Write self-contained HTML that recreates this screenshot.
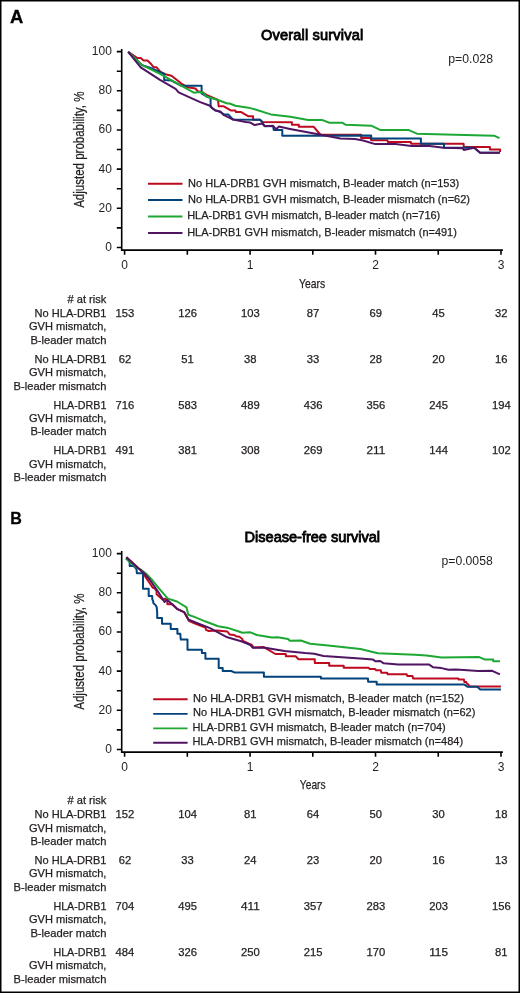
<!DOCTYPE html>
<html><head><meta charset="utf-8"><title>Survival curves</title>
<style>
html,body{margin:0;padding:0;background:#fff;width:520px;height:993px;overflow:hidden;}
svg{display:block;will-change:transform;}
text{font-family:"Liberation Sans",sans-serif;fill:#231f20;}
.b{font-weight:bold;fill:#000;}
.t{fill:#000;stroke:#000;stroke-width:0.8;}
.c{stroke:#231f20;stroke-width:0.25;}
.ax{stroke:#000;stroke-width:1.6;fill:none;}
.crv{fill:none;stroke-width:2;stroke-linejoin:round;stroke-linecap:butt;}
</style></head>
<body>
<svg width="520" height="993" viewBox="0 0 520 993">
<rect x="0" y="0" width="520" height="993" fill="#fff"/>
<rect x="0.75" y="0.75" width="518.5" height="991.5" fill="none" stroke="#000" stroke-width="1.5"/>
<text class="b" x="9.9" y="22.6" font-size="17.5" textLength="13.3" lengthAdjust="spacingAndGlyphs" stroke="#000" stroke-width="0.3">A</text>
<text class="b" x="10.2" y="524" font-size="17" textLength="11.6" lengthAdjust="spacingAndGlyphs" stroke="#000" stroke-width="0.3">B</text>
<path class="ax" d="M121.7 49 V250.9 M120.9 250.1 H502.9"/>
<path class="ax" stroke-width="1.4" d="M116.8 51.60 H121.7 M116.8 71.19 H121.7 M116.8 90.78 H121.7 M116.8 110.37 H121.7 M116.8 129.96 H121.7 M116.8 149.55 H121.7 M116.8 169.14 H121.7 M116.8 188.73 H121.7 M116.8 208.32 H121.7 M116.8 227.91 H121.7 M116.8 247.50 H121.7 M124.60 250.1 V254.70 M187.33 250.1 V254.70 M250.06 250.1 V254.70 M312.79 250.1 V254.70 M375.52 250.1 V254.70 M438.25 250.1 V254.70 M500.98 250.1 V254.70 "/>
<text x="111.9" y="55.00" font-size="12.0" text-anchor="end">100</text>
<text x="111.9" y="94.18" font-size="12.0" text-anchor="end">80</text>
<text x="111.9" y="133.36" font-size="12.0" text-anchor="end">60</text>
<text x="111.9" y="172.54" font-size="12.0" text-anchor="end">40</text>
<text x="111.9" y="211.72" font-size="12.0" text-anchor="end">20</text>
<text x="111.9" y="250.90" font-size="12.0" text-anchor="end">0</text>
<text x="124.60" y="268.70" font-size="12" text-anchor="middle">0</text>
<text x="250.06" y="268.70" font-size="12" text-anchor="middle">1</text>
<text x="375.52" y="268.70" font-size="12" text-anchor="middle">2</text>
<text x="500.98" y="268.70" font-size="12" text-anchor="middle">3</text>
<text class="t" x="261.0" y="39.8" font-size="14.6" textLength="102.19999999999999" lengthAdjust="spacing">Overall survival</text>
<text x="448.2" y="63.0" font-size="12.1" textLength="44.80000000000001" lengthAdjust="spacingAndGlyphs">p=0.028</text>
<text class="c" transform="translate(84,207.8) rotate(-90)" x="0" y="0" font-size="14.2" textLength="116.20000000000002" lengthAdjust="spacingAndGlyphs">Adjusted probability, %</text>
<text class="c" x="299.0" y="288.1" font-size="13.6" textLength="26.19999999999999" lengthAdjust="spacingAndGlyphs">Years</text>
<polyline class="crv" stroke="#bd0a1f" points="128.2,51.9 137.4,58 140.7,58 143.6,60.6 147.5,60.6 150.8,63.7 153.7,67.3 156.6,67.3 160.5,71.9 165.4,74.2 171.5,75.8 182.3,84.2 187.7,87.3 195.4,88.5 197.7,91.2 201.9,91.9 206.5,94.8 218,100 218.7,106.3 223.8,106.3 230.8,110.4 235.4,110.4 236,112.1 241.2,112.1 248.1,116.2 253.1,116.2 253.1,119.65 260,119.7 262.7,122 291.9,122.2 291.9,124.7 298.8,124.7 298.8,126.8 313.8,126.8 320.2,134.5 361.1,134.7 361.1,138.1 370.5,138.1 371.2,140.2 387.3,140.2 388,142.1 410.9,142.1 411.2,143.7 463.6,143.7 463.8,147.1 489.9,147.1 489.9,149.5 500.1,149.5 500.1,152.1"/>
<polyline class="crv" stroke="#03437b" points="128.2,51.9 142.2,65.2 149.9,67.6 164.2,74 164.2,80 171.5,80.6 181.4,85.8 201.6,85.8 201.6,93.5 207.7,97.1 210.6,97.7 210.6,106.9 214.6,109.8 221.5,112.7 224.2,114.6 228.5,114.6 233.1,119.6 260,119.7 262.3,122.4 264.6,126 273.1,126.2 273.8,130.1 282.3,130.1 282.3,135.7 371.2,135.6 371.2,138.5 420.9,138.5 420.9,143.8 444,143.8 444,147.7 474.2,147.7 480,152.8 499.8,152.8"/>
<polyline class="crv" stroke="#1da834" points="128.2,51.9 142.2,65.2 160,73.9 193.8,92.7 199.6,92.1 202.5,92.2 206.5,96.5 218,100 227.3,103.5 229.6,103.5 235.4,105.8 250,108.1 254.6,109.2 270.8,114.4 290.4,116.7 308.1,119.9 321.9,119.9 329.4,122.7 342.1,122.7 345.8,124.8 371.2,125.7 380.6,130.1 408.8,130.1 416.9,133.7 455,134.8 494,135.7 499.5,138.2"/>
<polyline class="crv" stroke="#501562" points="128.2,51.9 140.7,67.3 160,79.9 175.6,88.8 178.6,92.4 199.6,101.9 210.6,106 212.3,108.3 215.2,110.5 220.4,111.6 223.5,114.8 233.1,119.6 245.8,121.9 250,122.4 254.6,125.1 262.3,123.5 264.6,126.2 273.1,125.8 276.2,129.3 278.8,126.6 290,128.9 319.6,134.5 340.4,138.6 355,139.1 363.1,140.5 375.2,144.1 395.4,144.1 411.5,145.9 429.6,146 443.5,147.7 462.7,148.3 463.8,150 474.2,147.7 480.2,152.7 499.8,152.7"/>
<line x1="148.0" y1="183.8" x2="182.5" y2="183.8" stroke="#bd0a1f" stroke-width="1.9"/>
<text class="c" x="188.0" y="186.5" font-size="10.8" textLength="271.2" lengthAdjust="spacingAndGlyphs">No HLA-DRB1 GVH mismatch, B-leader match (n=153)</text>
<line x1="148.0" y1="200.0" x2="182.5" y2="200.0" stroke="#03437b" stroke-width="1.9"/>
<text class="c" x="188.0" y="202.9" font-size="10.8" textLength="282.0" lengthAdjust="spacingAndGlyphs">No HLA-DRB1 GVH mismatch, B-leader mismatch (n=62)</text>
<line x1="148.0" y1="216.5" x2="182.5" y2="216.5" stroke="#1da834" stroke-width="1.9"/>
<text class="c" x="187.2" y="219.4" font-size="10.8" textLength="253.1" lengthAdjust="spacingAndGlyphs">HLA-DRB1 GVH mismatch, B-leader match (n=716)</text>
<line x1="148.0" y1="233.0" x2="182.5" y2="233.0" stroke="#501562" stroke-width="1.9"/>
<text class="c" x="187.2" y="235.6" font-size="10.8" textLength="269.7" lengthAdjust="spacingAndGlyphs">HLA-DRB1 GVH mismatch, B-leader mismatch (n=491)</text>
<text class="c" x="106.4" y="303.10" font-size="10.8" text-anchor="end" textLength="38.9" lengthAdjust="spacingAndGlyphs"># at risk</text>
<text class="c" x="106.4" y="316.90" font-size="10.8" text-anchor="end" textLength="71.8" lengthAdjust="spacingAndGlyphs">No HLA-DRB1</text>
<text class="c" x="106.4" y="330.35" font-size="10.8" text-anchor="end" textLength="77.4" lengthAdjust="spacingAndGlyphs">GVH mismatch,</text>
<text class="c" x="106.4" y="343.80" font-size="10.8" text-anchor="end" textLength="76.0" lengthAdjust="spacingAndGlyphs">B-leader match</text>
<text class="c" x="124.90" y="316.90" font-size="10.3" text-anchor="middle" textLength="18.75" lengthAdjust="spacingAndGlyphs">153</text>
<text class="c" x="187.63" y="316.90" font-size="10.3" text-anchor="middle" textLength="18.75" lengthAdjust="spacingAndGlyphs">126</text>
<text class="c" x="250.36" y="316.90" font-size="10.3" text-anchor="middle" textLength="18.75" lengthAdjust="spacingAndGlyphs">103</text>
<text class="c" x="313.09" y="316.90" font-size="10.3" text-anchor="middle" textLength="12.50" lengthAdjust="spacingAndGlyphs">87</text>
<text class="c" x="375.82" y="316.90" font-size="10.3" text-anchor="middle" textLength="12.50" lengthAdjust="spacingAndGlyphs">69</text>
<text class="c" x="438.55" y="316.90" font-size="10.3" text-anchor="middle" textLength="12.50" lengthAdjust="spacingAndGlyphs">45</text>
<text class="c" x="501.28" y="316.90" font-size="10.3" text-anchor="middle" textLength="12.50" lengthAdjust="spacingAndGlyphs">32</text>
<text class="c" x="106.4" y="362.70" font-size="10.8" text-anchor="end" textLength="71.8" lengthAdjust="spacingAndGlyphs">No HLA-DRB1</text>
<text class="c" x="106.4" y="376.15" font-size="10.8" text-anchor="end" textLength="77.4" lengthAdjust="spacingAndGlyphs">GVH mismatch,</text>
<text class="c" x="106.4" y="389.60" font-size="10.8" text-anchor="end" textLength="92.8" lengthAdjust="spacingAndGlyphs">B-leader mismatch</text>
<text class="c" x="124.90" y="362.70" font-size="10.3" text-anchor="middle" textLength="12.50" lengthAdjust="spacingAndGlyphs">62</text>
<text class="c" x="187.63" y="362.70" font-size="10.3" text-anchor="middle" textLength="12.50" lengthAdjust="spacingAndGlyphs">51</text>
<text class="c" x="250.36" y="362.70" font-size="10.3" text-anchor="middle" textLength="12.50" lengthAdjust="spacingAndGlyphs">38</text>
<text class="c" x="313.09" y="362.70" font-size="10.3" text-anchor="middle" textLength="12.50" lengthAdjust="spacingAndGlyphs">33</text>
<text class="c" x="375.82" y="362.70" font-size="10.3" text-anchor="middle" textLength="12.50" lengthAdjust="spacingAndGlyphs">28</text>
<text class="c" x="438.55" y="362.70" font-size="10.3" text-anchor="middle" textLength="12.50" lengthAdjust="spacingAndGlyphs">20</text>
<text class="c" x="501.28" y="362.70" font-size="10.3" text-anchor="middle" textLength="12.50" lengthAdjust="spacingAndGlyphs">16</text>
<text class="c" x="106.4" y="408.50" font-size="10.8" text-anchor="end" textLength="53.0" lengthAdjust="spacingAndGlyphs">HLA-DRB1</text>
<text class="c" x="106.4" y="421.95" font-size="10.8" text-anchor="end" textLength="77.4" lengthAdjust="spacingAndGlyphs">GVH mismatch,</text>
<text class="c" x="106.4" y="435.40" font-size="10.8" text-anchor="end" textLength="76.0" lengthAdjust="spacingAndGlyphs">B-leader match</text>
<text class="c" x="124.90" y="408.50" font-size="10.3" text-anchor="middle" textLength="18.75" lengthAdjust="spacingAndGlyphs">716</text>
<text class="c" x="187.63" y="408.50" font-size="10.3" text-anchor="middle" textLength="18.75" lengthAdjust="spacingAndGlyphs">583</text>
<text class="c" x="250.36" y="408.50" font-size="10.3" text-anchor="middle" textLength="18.75" lengthAdjust="spacingAndGlyphs">489</text>
<text class="c" x="313.09" y="408.50" font-size="10.3" text-anchor="middle" textLength="18.75" lengthAdjust="spacingAndGlyphs">436</text>
<text class="c" x="375.82" y="408.50" font-size="10.3" text-anchor="middle" textLength="18.75" lengthAdjust="spacingAndGlyphs">356</text>
<text class="c" x="438.55" y="408.50" font-size="10.3" text-anchor="middle" textLength="18.75" lengthAdjust="spacingAndGlyphs">245</text>
<text class="c" x="501.28" y="408.50" font-size="10.3" text-anchor="middle" textLength="18.75" lengthAdjust="spacingAndGlyphs">194</text>
<text class="c" x="106.4" y="454.30" font-size="10.8" text-anchor="end" textLength="53.0" lengthAdjust="spacingAndGlyphs">HLA-DRB1</text>
<text class="c" x="106.4" y="467.75" font-size="10.8" text-anchor="end" textLength="77.4" lengthAdjust="spacingAndGlyphs">GVH mismatch,</text>
<text class="c" x="106.4" y="481.20" font-size="10.8" text-anchor="end" textLength="92.8" lengthAdjust="spacingAndGlyphs">B-leader mismatch</text>
<text class="c" x="124.90" y="454.30" font-size="10.3" text-anchor="middle" textLength="18.75" lengthAdjust="spacingAndGlyphs">491</text>
<text class="c" x="187.63" y="454.30" font-size="10.3" text-anchor="middle" textLength="18.75" lengthAdjust="spacingAndGlyphs">381</text>
<text class="c" x="250.36" y="454.30" font-size="10.3" text-anchor="middle" textLength="18.75" lengthAdjust="spacingAndGlyphs">308</text>
<text class="c" x="313.09" y="454.30" font-size="10.3" text-anchor="middle" textLength="18.75" lengthAdjust="spacingAndGlyphs">269</text>
<text class="c" x="375.82" y="454.30" font-size="10.3" text-anchor="middle" textLength="18.75" lengthAdjust="spacingAndGlyphs">211</text>
<text class="c" x="438.55" y="454.30" font-size="10.3" text-anchor="middle" textLength="18.75" lengthAdjust="spacingAndGlyphs">144</text>
<text class="c" x="501.28" y="454.30" font-size="10.3" text-anchor="middle" textLength="18.75" lengthAdjust="spacingAndGlyphs">102</text>
<path class="ax" d="M121.7 551 V752.9 M120.9 752.1 H502.9"/>
<path class="ax" stroke-width="1.4" d="M116.8 553.60 H121.7 M116.8 573.19 H121.7 M116.8 592.78 H121.7 M116.8 612.37 H121.7 M116.8 631.96 H121.7 M116.8 651.55 H121.7 M116.8 671.14 H121.7 M116.8 690.73 H121.7 M116.8 710.32 H121.7 M116.8 729.91 H121.7 M116.8 749.50 H121.7 M124.60 752.1 V756.70 M187.33 752.1 V756.70 M250.06 752.1 V756.70 M312.79 752.1 V756.70 M375.52 752.1 V756.70 M438.25 752.1 V756.70 M500.98 752.1 V756.70 "/>
<text x="111.9" y="557.00" font-size="12.0" text-anchor="end">100</text>
<text x="111.9" y="596.18" font-size="12.0" text-anchor="end">80</text>
<text x="111.9" y="635.36" font-size="12.0" text-anchor="end">60</text>
<text x="111.9" y="674.54" font-size="12.0" text-anchor="end">40</text>
<text x="111.9" y="713.72" font-size="12.0" text-anchor="end">20</text>
<text x="111.9" y="752.90" font-size="12.0" text-anchor="end">0</text>
<text x="124.60" y="770.70" font-size="12" text-anchor="middle">0</text>
<text x="250.06" y="770.70" font-size="12" text-anchor="middle">1</text>
<text x="375.52" y="770.70" font-size="12" text-anchor="middle">2</text>
<text x="500.98" y="770.70" font-size="12" text-anchor="middle">3</text>
<text class="t" x="244.6" y="541.5" font-size="14.6" textLength="135.50000000000003" lengthAdjust="spacing">Disease-free survival</text>
<text x="441.5" y="565.1" font-size="12.1" textLength="51.19999999999999" lengthAdjust="spacingAndGlyphs">p=0.0058</text>
<text class="c" transform="translate(84,709.7) rotate(-90)" x="0" y="0" font-size="14.2" textLength="116.20000000000005" lengthAdjust="spacingAndGlyphs">Adjusted probability, %</text>
<text class="c" x="299.8" y="789.2" font-size="13.6" textLength="25.80000000000001" lengthAdjust="spacingAndGlyphs">Years</text>
<polyline class="crv" stroke="#bd0a1f" points="126.5,557.2 141.2,570.8 152.8,587.8 154.5,588.2 156.6,590.9 156.6,594.3 162.5,599.5 165.3,598.6 167.4,600 167.4,604.3 172.4,604.3 176.9,608.8 184.2,612.2 188.8,620.8 195,623.5 205.4,627.5 206,629.8 208.8,631 216.9,630.4 227.3,631.5 229.6,634.4 234.2,635 236,636.2 239.4,636.7 242.3,639 242.9,640.8 250,644.2 251.7,644.8 253.5,647.5 263.8,647.1 275.4,654 285.8,654 285.8,656.3 295.6,656.3 298.5,659.2 314.8,659.2 314.8,662.9 329.2,662.9 329.2,665.8 343.7,665.8 343.7,667.8 368.7,667.8 369.8,669.1 375,669.1 376.2,670.2 380.8,670.2 381.3,672.7 387.1,672.7 387.7,674.3 406.7,674.3 407.3,676 412.5,676 413.1,678.5 458.3,678.5 458.8,679.6 464,679.6 464.4,682 466.3,682 466.7,683.5 468.7,684.9 469.1,686.5 500.9,686.5"/>
<polyline class="crv" stroke="#03437b" points="126.5,557.2 129.7,562.6 129.7,566 133.5,566 136.4,568.8 136.9,573.2 142.2,573.2 143,573.5 143,588.8 148.7,588.8 148.7,595.9 152.2,595.9 152.3,599.3 153.3,601.5 153.3,603 155.8,605.4 156.7,607.3 157.2,613.1 157.2,617.9 162,617.9 162,623.7 170.7,623.7 170.7,628.9 177.4,628.9 177.4,633.8 180.3,633.8 180.8,639.6 187.5,639.6 187.5,649.8 201.9,649.8 201.9,652.9 205.4,652.9 205.4,658.7 218.7,658.7 218.7,667.9 222.7,667.9 222.7,671 231.3,671 234.8,672.6 263.9,672.6 263.9,676.8 320.9,676.8 320.9,678.6 368,678.6 368.1,681.8 376.7,681.8 376.7,684.4 464,684.4 467.7,686.8 477.3,686.8 480.2,689.4 500.9,689.4"/>
<polyline class="crv" stroke="#1da834" points="125.7,558.4 136.4,567.4 140.4,569.4 146.2,573.8 152.4,580.3 158.3,587.6 167.9,598.6 172.2,600 177,601.5 186.5,607.3 188.3,614.8 195,617.1 205,621.3 218.1,626.3 228.5,628.1 238.8,631.5 242.3,632.7 250.4,632.3 256.9,635 271.9,637.5 277.7,637.3 288.1,639 289.8,640.8 300.8,640.5 310.2,643.8 328.1,645.6 360.4,649 377.9,653.3 415,654.8 426.5,655.4 441.5,657.5 479.2,657.1 484.5,659.4 493.2,659.4 493.2,661.2 499.9,661.2"/>
<polyline class="crv" stroke="#501562" points="126.3,557.3 138,568 143.8,572.8 150,580 158.9,593 164.5,601.9 167.4,600 177.1,608.8 184.4,612.4 188.8,619.8 195,622.3 210,628.1 227.3,637.3 241.2,641.3 250,644.8 252.9,647.7 265,647.7 284.6,650.9 305,653.1 314.2,653.7 323.5,656 360,658.5 372.7,659.4 375.6,661.3 380.2,661 383.7,663.3 398.1,664.5 415,664.6 428.8,664.4 432.9,667.2 441.5,668.1 448.5,669.8 455.4,669.5 460,669.8 478.3,671 492.2,670.8 499.9,674.3"/>
<line x1="153.2" y1="699.2" x2="187.6" y2="699.2" stroke="#bd0a1f" stroke-width="1.9"/>
<text class="c" x="193.0" y="701.9" font-size="10.8" textLength="270.8" lengthAdjust="spacingAndGlyphs">No HLA-DRB1 GVH mismatch, B-leader match (n=152)</text>
<line x1="153.2" y1="713.9" x2="187.6" y2="713.9" stroke="#03437b" stroke-width="1.9"/>
<text class="c" x="193.0" y="716.3" font-size="10.8" textLength="282.4" lengthAdjust="spacingAndGlyphs">No HLA-DRB1 GVH mismatch, B-leader mismatch (n=62)</text>
<line x1="153.2" y1="728.4" x2="187.6" y2="728.4" stroke="#1da834" stroke-width="1.9"/>
<text class="c" x="192.4" y="731.0" font-size="10.8" textLength="253.4" lengthAdjust="spacingAndGlyphs">HLA-DRB1 GVH mismatch, B-leader match (n=704)</text>
<line x1="153.2" y1="742.8" x2="187.6" y2="742.8" stroke="#501562" stroke-width="1.9"/>
<text class="c" x="192.4" y="745.4" font-size="10.8" textLength="270.7" lengthAdjust="spacingAndGlyphs">HLA-DRB1 GVH mismatch, B-leader mismatch (n=484)</text>
<text class="c" x="106.4" y="804.40" font-size="10.8" text-anchor="end" textLength="38.9" lengthAdjust="spacingAndGlyphs"># at risk</text>
<text class="c" x="106.4" y="818.20" font-size="10.8" text-anchor="end" textLength="71.8" lengthAdjust="spacingAndGlyphs">No HLA-DRB1</text>
<text class="c" x="106.4" y="831.65" font-size="10.8" text-anchor="end" textLength="77.4" lengthAdjust="spacingAndGlyphs">GVH mismatch,</text>
<text class="c" x="106.4" y="845.10" font-size="10.8" text-anchor="end" textLength="76.0" lengthAdjust="spacingAndGlyphs">B-leader match</text>
<text class="c" x="124.90" y="818.20" font-size="10.3" text-anchor="middle" textLength="18.75" lengthAdjust="spacingAndGlyphs">152</text>
<text class="c" x="187.63" y="818.20" font-size="10.3" text-anchor="middle" textLength="18.75" lengthAdjust="spacingAndGlyphs">104</text>
<text class="c" x="250.36" y="818.20" font-size="10.3" text-anchor="middle" textLength="12.50" lengthAdjust="spacingAndGlyphs">81</text>
<text class="c" x="313.09" y="818.20" font-size="10.3" text-anchor="middle" textLength="12.50" lengthAdjust="spacingAndGlyphs">64</text>
<text class="c" x="375.82" y="818.20" font-size="10.3" text-anchor="middle" textLength="12.50" lengthAdjust="spacingAndGlyphs">50</text>
<text class="c" x="438.55" y="818.20" font-size="10.3" text-anchor="middle" textLength="12.50" lengthAdjust="spacingAndGlyphs">30</text>
<text class="c" x="501.28" y="818.20" font-size="10.3" text-anchor="middle" textLength="12.50" lengthAdjust="spacingAndGlyphs">18</text>
<text class="c" x="106.4" y="864.00" font-size="10.8" text-anchor="end" textLength="71.8" lengthAdjust="spacingAndGlyphs">No HLA-DRB1</text>
<text class="c" x="106.4" y="877.45" font-size="10.8" text-anchor="end" textLength="77.4" lengthAdjust="spacingAndGlyphs">GVH mismatch,</text>
<text class="c" x="106.4" y="890.90" font-size="10.8" text-anchor="end" textLength="92.8" lengthAdjust="spacingAndGlyphs">B-leader mismatch</text>
<text class="c" x="124.90" y="864.00" font-size="10.3" text-anchor="middle" textLength="12.50" lengthAdjust="spacingAndGlyphs">62</text>
<text class="c" x="187.63" y="864.00" font-size="10.3" text-anchor="middle" textLength="12.50" lengthAdjust="spacingAndGlyphs">33</text>
<text class="c" x="250.36" y="864.00" font-size="10.3" text-anchor="middle" textLength="12.50" lengthAdjust="spacingAndGlyphs">24</text>
<text class="c" x="313.09" y="864.00" font-size="10.3" text-anchor="middle" textLength="12.50" lengthAdjust="spacingAndGlyphs">23</text>
<text class="c" x="375.82" y="864.00" font-size="10.3" text-anchor="middle" textLength="12.50" lengthAdjust="spacingAndGlyphs">20</text>
<text class="c" x="438.55" y="864.00" font-size="10.3" text-anchor="middle" textLength="12.50" lengthAdjust="spacingAndGlyphs">16</text>
<text class="c" x="501.28" y="864.00" font-size="10.3" text-anchor="middle" textLength="12.50" lengthAdjust="spacingAndGlyphs">13</text>
<text class="c" x="106.4" y="909.80" font-size="10.8" text-anchor="end" textLength="53.0" lengthAdjust="spacingAndGlyphs">HLA-DRB1</text>
<text class="c" x="106.4" y="923.25" font-size="10.8" text-anchor="end" textLength="77.4" lengthAdjust="spacingAndGlyphs">GVH mismatch,</text>
<text class="c" x="106.4" y="936.70" font-size="10.8" text-anchor="end" textLength="76.0" lengthAdjust="spacingAndGlyphs">B-leader match</text>
<text class="c" x="124.90" y="909.80" font-size="10.3" text-anchor="middle" textLength="18.75" lengthAdjust="spacingAndGlyphs">704</text>
<text class="c" x="187.63" y="909.80" font-size="10.3" text-anchor="middle" textLength="18.75" lengthAdjust="spacingAndGlyphs">495</text>
<text class="c" x="250.36" y="909.80" font-size="10.3" text-anchor="middle" textLength="18.75" lengthAdjust="spacingAndGlyphs">411</text>
<text class="c" x="313.09" y="909.80" font-size="10.3" text-anchor="middle" textLength="18.75" lengthAdjust="spacingAndGlyphs">357</text>
<text class="c" x="375.82" y="909.80" font-size="10.3" text-anchor="middle" textLength="18.75" lengthAdjust="spacingAndGlyphs">283</text>
<text class="c" x="438.55" y="909.80" font-size="10.3" text-anchor="middle" textLength="18.75" lengthAdjust="spacingAndGlyphs">203</text>
<text class="c" x="501.28" y="909.80" font-size="10.3" text-anchor="middle" textLength="18.75" lengthAdjust="spacingAndGlyphs">156</text>
<text class="c" x="106.4" y="955.60" font-size="10.8" text-anchor="end" textLength="53.0" lengthAdjust="spacingAndGlyphs">HLA-DRB1</text>
<text class="c" x="106.4" y="969.05" font-size="10.8" text-anchor="end" textLength="77.4" lengthAdjust="spacingAndGlyphs">GVH mismatch,</text>
<text class="c" x="106.4" y="982.50" font-size="10.8" text-anchor="end" textLength="92.8" lengthAdjust="spacingAndGlyphs">B-leader mismatch</text>
<text class="c" x="124.90" y="955.60" font-size="10.3" text-anchor="middle" textLength="18.75" lengthAdjust="spacingAndGlyphs">484</text>
<text class="c" x="187.63" y="955.60" font-size="10.3" text-anchor="middle" textLength="18.75" lengthAdjust="spacingAndGlyphs">326</text>
<text class="c" x="250.36" y="955.60" font-size="10.3" text-anchor="middle" textLength="18.75" lengthAdjust="spacingAndGlyphs">250</text>
<text class="c" x="313.09" y="955.60" font-size="10.3" text-anchor="middle" textLength="18.75" lengthAdjust="spacingAndGlyphs">215</text>
<text class="c" x="375.82" y="955.60" font-size="10.3" text-anchor="middle" textLength="18.75" lengthAdjust="spacingAndGlyphs">170</text>
<text class="c" x="438.55" y="955.60" font-size="10.3" text-anchor="middle" textLength="18.75" lengthAdjust="spacingAndGlyphs">115</text>
<text class="c" x="501.28" y="955.60" font-size="10.3" text-anchor="middle" textLength="12.50" lengthAdjust="spacingAndGlyphs">81</text>
</svg>
</body></html>
